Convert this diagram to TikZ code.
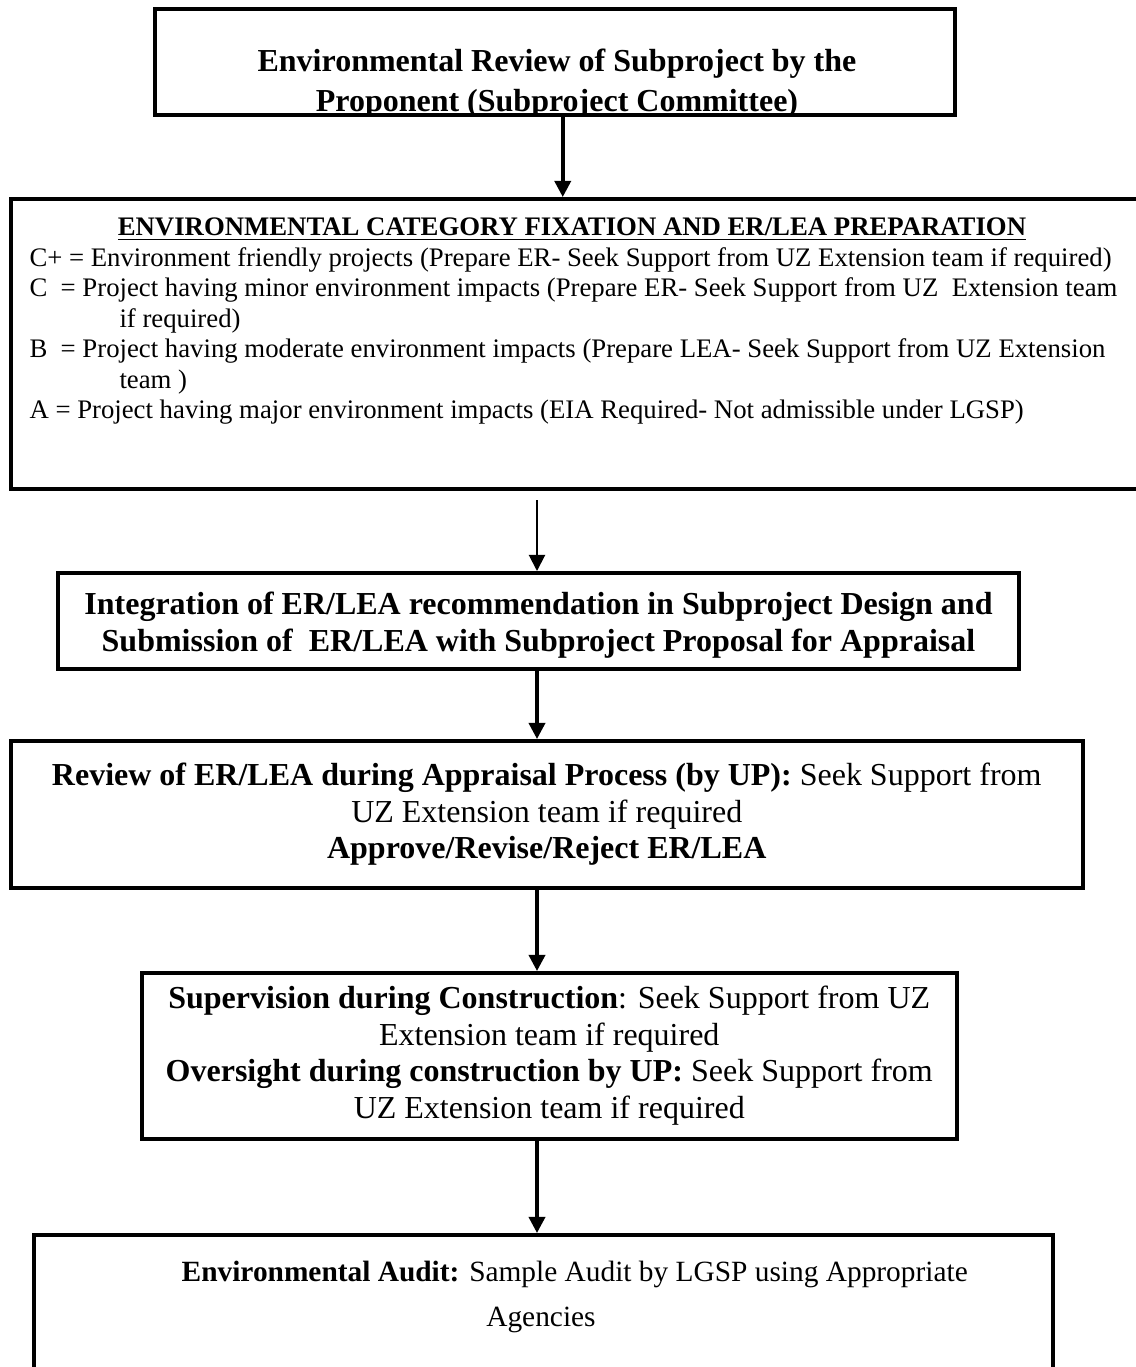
\documentclass[tikz,border=0pt]{standalone}
\usepackage{fontspec}
\setmainfont{Liberation Serif}
\usetikzlibrary{positioning, arrows.meta}

\begin{document}
\begin{tikzpicture}[
    x=0.4pt, y=-0.4pt,
    stage/.style={rectangle, draw, line width=1.4pt, inner sep=0pt, anchor=north west},
    body/.style={align=center, inner sep=0pt, font=\fontsize{12.8}{14.6}\selectfont},
    flow/.style={-{Triangle[length=6.5pt, width=6.5pt]}, line width=1.4pt},
    thinflow/.style={-{Triangle[length=6.5pt, width=6.5pt]}, line width=0.8pt}
]
    \useasboundingbox (0,0) rectangle (1135,1367);

    % Proponent review
    \node[stage, minimum width=320pt, minimum height=42.4pt] (review) at (153,7) {};
    \begin{scope}
        \clip (review.north west) rectangle (review.south east);
        \node[body, font=\bfseries\fontsize{12.8}{16}\selectfont] (reviewtxt) at (557,84)
            {Environmental Review of Subproject by the\\Proponent (Subproject Committee)};
    \end{scope}

    % Category fixation
    \node[stage, minimum width=452.4pt, minimum height=116pt] (cat) at (9,197) {};
    \node[font=\bfseries\fontsize{10.7}{12}\selectfont, inner sep=0pt] (cattitle) at (572,229)
        {\underline{ENVIRONMENTAL CATEGORY FIXATION AND ER/LEA PREPARATION}};
    \node[anchor=north west, align=left, inner sep=0pt, font=\fontsize{10.7}{12.2}\selectfont] (catlist) at (29,247)
        {C+ = Environment friendly projects (Prepare ER- Seek Support from UZ Extension team if required)\\
         C\ \ = Project having minor environment impacts (Prepare ER- Seek Support from UZ\ \ Extension team\\
         \hspace*{36pt}if required)\\
         B\ \ = Project having moderate environment impacts (Prepare LEA- Seek Support from UZ Extension\\
         \hspace*{36pt}team )\\
         A = Project having major environment impacts (EIA Required- Not admissible under LGSP)};

    % Integration
    \node[stage, line width=1.6pt, minimum width=384.4pt, minimum height=38.4pt] (integ) at (56,571) {};
    \node[body, font=\bfseries\fontsize{12.8}{14.8}\selectfont] (integtxt) at ([yshift=-1.6pt]integ.center)
        {Integration of ER/LEA recommendation in Subproject Design and\\
         Submission of\ \ ER/LEA with Subproject Proposal for Appraisal};

    % Appraisal
    \node[stage, minimum width=428.8pt, minimum height=58.8pt] (apprais) at (9,739) {};
    \node[body] (appraistxt) at (apprais.center)
        {\textbf{Review of ER/LEA during Appraisal Process (by UP):} Seek Support from\\
         UZ Extension team if required\\
         \textbf{Approve/Revise/Reject ER/LEA}};

    % Supervision
    \node[stage, minimum width=326pt, minimum height=66.4pt] (super) at (140,971) {};
    \node[body] (supertxt) at (super.center)
        {\textbf{Supervision during Construction}: Seek Support from UZ\\
         Extension team if required\\
         \textbf{Oversight during construction by UP:} Seek Support from\\
         UZ Extension team if required};

    % Audit
    \node[stage, minimum width=407.6pt, minimum height=80pt] (audit) at (32,1233) {};
    \node[body, font=\fontsize{11.75}{18}\selectfont] (audittxt) at (541,1297)
        {\hspace*{27pt}\textbf{Environmental Audit:} Sample Audit by LGSP using Appropriate\\
         Agencies};

    % Connections
    \coordinate (gap) at (537,500);
    \draw[flow] ([xshift=3.2pt]review.south) -- ([xshift=3.2pt]review.south |- cat.north);
    \draw[thinflow] (gap) -- (gap |- integ.north);
    \draw[flow] (gap |- integ.south) -- (gap |- apprais.north);
    \draw[flow] (gap |- apprais.south) -- (gap |- super.north);
    \draw[flow] (gap |- super.south) -- (gap |- audit.north);
\end{tikzpicture}
\end{document}
